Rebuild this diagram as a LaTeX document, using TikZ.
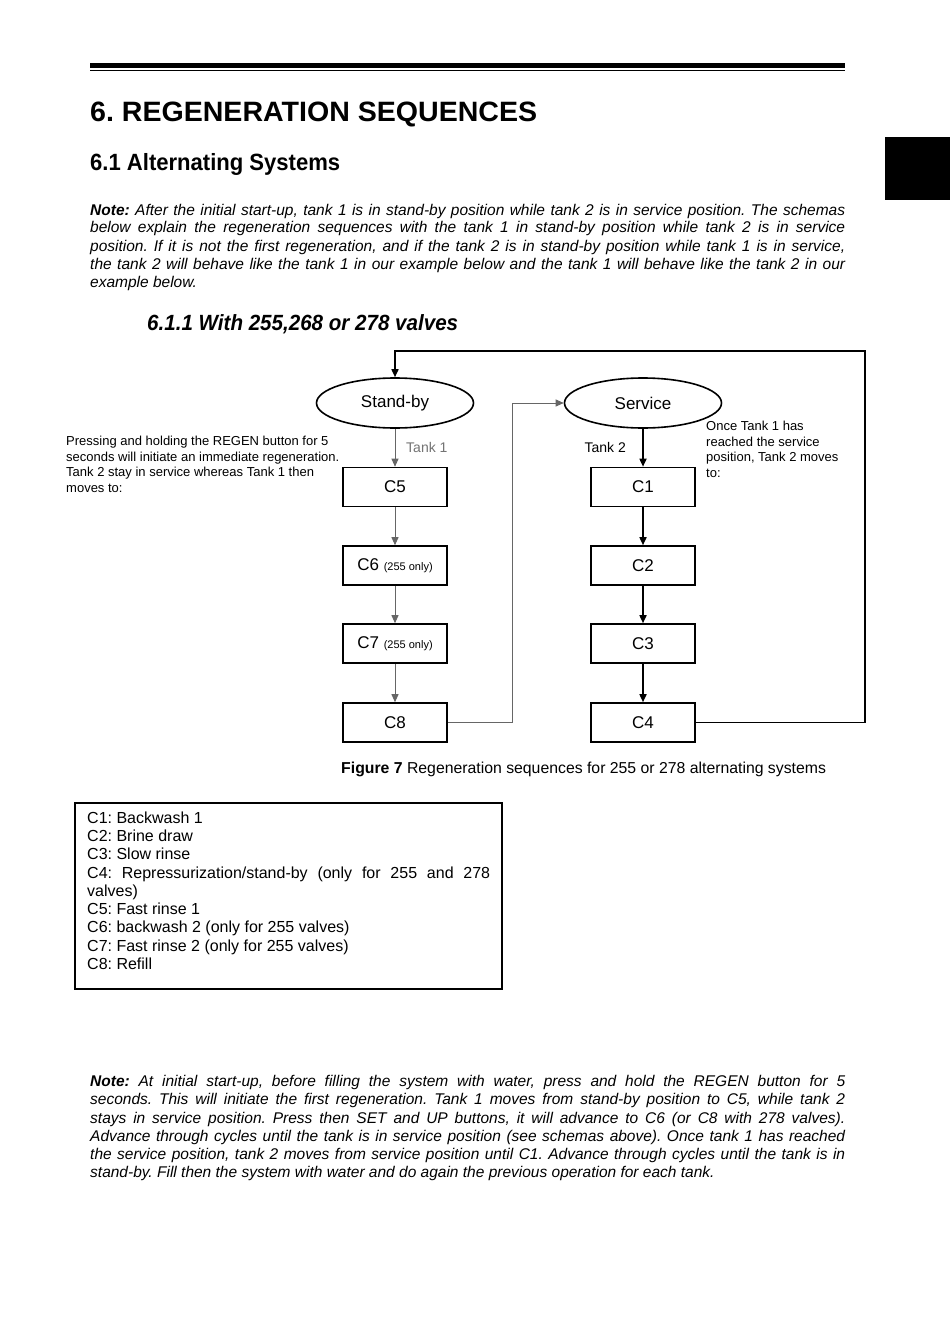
\documentclass[tikz,border=0pt]{standalone}
\usepackage{fontspec}
\usepackage{graphicx}
\setmainfont{Liberation Sans}
\newfontfamily\narrowfont{Liberation Sans}[FakeStretch=1.0]
\usetikzlibrary{arrows.meta,shapes.geometric}
\newcommand{\jline}[1]{\makebox[755pt][s]{#1}}
\frenchspacing
\begin{document}
\begin{tikzpicture}[x=1pt,y=-1pt,
  stepbox/.style={draw, line width=1.6pt, minimum width=104pt, minimum height=39pt, inner sep=0pt, font=\fontsize{17}{20}\selectfont},
  state/.style={ellipse, draw, line width=1.6pt, minimum width=157pt, minimum height=50pt, inner sep=0pt, font=\fontsize{17}{20}\selectfont},
  grayarrow/.style={draw=black!60, line width=0.9pt, -{Triangle[length=8pt,width=7pt]}},
  blackarrow/.style={draw=black, line width=1.6pt, -{Triangle[length=8pt,width=7pt]}},
  noteline/.style={anchor=base west, inner sep=0pt, font=\narrowfont\itshape\fontsize{15.5}{18}\selectfont},
  annot/.style={anchor=base west, inner sep=0pt, font=\fontsize{13}{15}\selectfont},
  legline/.style={anchor=base west, inner sep=0pt, font=\fontsize{16}{18}\selectfont},
]
\useasboundingbox[fill=white] (0,0) rectangle (950,1343);

% header rules and tab
\fill[black] (90,63) rectangle (845,68.5);
\draw[line width=1.2pt] (90,70.5) -- (845,70.5);
\fill[black] (885,137) rectangle (950,200);

% headings
\node[anchor=base west, inner sep=0pt] (h1) at (90,122)
  {\resizebox{447pt}{\height}{\bfseries\fontsize{28}{32}\selectfont 6. REGENERATION SEQUENCES}};
\node[anchor=base west, inner sep=0pt] (h2) at (90,171)
  {\resizebox{250pt}{\height}{\bfseries\fontsize{23.5}{27}\selectfont 6.1 Alternating Systems}};

% top note
\node[noteline] (n1) at (90,215) {\jline{\textbf{Note:} After the initial start-up, tank 1 is in stand-by position while tank 2 is in service position. The schemas}};
\node[noteline] (n2) at (90,233) {\jline{below explain the regeneration sequences with the tank 1 in stand-by position while tank 2 is in service}};
\node[noteline] (n3) at (90,251) {\jline{position. If it is not the first regeneration, and if the tank 2 is in stand-by position while tank 1 is in service,}};
\node[noteline] (n4) at (90,269) {\jline{the tank 2 will behave like the tank 1 in our example below and the tank 1 will behave like the tank 2 in our}};
\node[noteline] (n5) at (90,287) {example below.};

\node[anchor=base west, inner sep=0pt] (h3) at (147,330)
  {\resizebox{311pt}{\height}{\bfseries\itshape\fontsize{22}{26}\selectfont 6.1.1 With 255,268 or 278 valves}};

% diagram
\node[state] (standby) at (395,403) {Stand-by};
\node[state] (service) at (643,403) {Service};

\node[stepbox] (c5) at (395,487) {C5};
\node[stepbox] (c6) at (395,565.5) {C6 {\fontsize{11}{13}\selectfont(255 only)}};
\node[stepbox] (c7) at (395,643.5) {C7 {\fontsize{11}{13}\selectfont(255 only)}};
\node[stepbox] (c8) at (395,722.5) {C8};

\node[stepbox] (c1) at (643,487) {C1};
\node[stepbox] (c2) at (643,565.5) {C2};
\node[stepbox] (c3) at (643,643.5) {C3};
\node[stepbox] (c4) at (643,722.5) {C4};

\draw[grayarrow] (standby) -- (c5);
\draw[grayarrow] (c5) -- (c6);
\draw[grayarrow] (c6) -- (c7);
\draw[grayarrow] (c7) -- (c8);

\draw[blackarrow] (service) -- (c1);
\draw[blackarrow] (c1) -- (c2);
\draw[blackarrow] (c2) -- (c3);
\draw[blackarrow] (c3) -- (c4);

\coordinate (jog) at (512,403);
\draw[grayarrow] (c8.east) -| (jog) -- (service.west);
\coordinate (rtop) at (865,351);
\draw[blackarrow] (c4.east) -| (rtop) -| (standby.north);

\node[anchor=base west, inner sep=0pt, text=black!55, font=\fontsize{14}{16}\selectfont] (t1) at (406,452) {Tank 1};
\node[anchor=base east, inner sep=0pt, font=\fontsize{14}{16}\selectfont] (t2) at (626,452) {Tank 2};

\node[annot] (l1) at (66,445.5) {Pressing and holding the REGEN button for 5};
\node[annot] (l2) at (66,461) {seconds will initiate an immediate regeneration.};
\node[annot] (l3) at (66,476.5) {Tank 2 stay in service whereas Tank 1 then};
\node[annot] (l4) at (66,492) {moves to:};

\node[annot] (r1) at (706,430.5) {Once Tank 1 has};
\node[annot] (r2) at (706,446) {reached the service};
\node[annot] (r3) at (706,461.5) {position, Tank 2 moves};
\node[annot] (r4) at (706,477) {to:};

\node[anchor=base west, inner sep=0pt, font=\fontsize{15.8}{18}\selectfont] (cap) at (341,773)
  {\textbf{Figure 7} Regeneration sequences for 255 or 278 alternating systems};

% legend
\draw[line width=1.6pt] (75,803) rectangle (502,989);
\node[legline] (g1) at (87,823) {C1: Backwash 1};
\node[legline] (g2) at (87,841) {C2: Brine draw};
\node[legline] (g3) at (87,859.5) {C3: Slow rinse};
\node[legline] (g4) at (87,878) {\makebox[403pt][s]{C4: Repressurization/stand-by (only for 255 and 278}};
\node[legline] (g5) at (87,896) {valves)};
\node[legline] (g6) at (87,914.5) {C5: Fast rinse 1};
\node[legline] (g7) at (87,932.5) {C6: backwash 2 (only for 255 valves)};
\node[legline] (g8) at (87,951) {C7: Fast rinse 2 (only for 255 valves)};
\node[legline] (g9) at (87,969) {C8: Refill};

% bottom note
\node[noteline] (b1) at (90,1086) {\jline{\textbf{Note:} At initial start-up, before filling the system with water, press and hold the REGEN button for 5}};
\node[noteline] (b2) at (90,1104) {\jline{seconds. This will initiate the first regeneration. Tank 1 moves from stand-by position to C5, while tank 2}};
\node[noteline] (b3) at (90,1123) {\jline{stays in service position. Press then SET and UP buttons, it will advance to C6 (or C8 with 278 valves).}};
\node[noteline] (b4) at (90,1141) {\jline{Advance through cycles until the tank is in service position (see schemas above). Once tank 1 has reached}};
\node[noteline] (b5) at (90,1159) {\jline{the service position, tank 2 moves from service position until C1. Advance through cycles until the tank is in}};
\node[noteline] (b6) at (90,1177) {stand-by. Fill then the system with water and do again the previous operation for each tank.};
\end{tikzpicture}
\end{document}
